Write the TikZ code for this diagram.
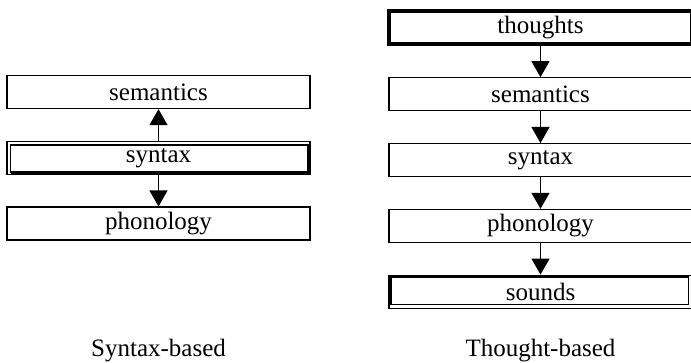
\documentclass[tikz,border=0pt]{standalone}
\usepackage{fontspec}
\setmainfont{Liberation Serif}
\usetikzlibrary{positioning,arrows.meta}

\tikzset{
  box/.style={draw, line width=1.3pt, minimum width=303pt, minimum height=33pt,
    inner sep=0pt, font=\fontsize{25}{30}\selectfont},
  heavybox/.style={box, line width=3.4pt},
  link/.style={line width=1.3pt, -{Triangle[width=18pt,length=16pt]}},
  caption/.style={anchor=base, font=\fontsize{25}{30}\selectfont},
}

\begin{document}
\begin{tikzpicture}[x=1pt, y=1pt, node distance = 31.5pt]
  \useasboundingbox (0,0) rectangle (691,-363);

  % left column
  \node (lsem) [box] at (158.5,-92) {semantics};
  \node (lsyn) [box, below = of lsem] {syntax};
  \node (lpho) [box, below = of lsyn] {phonology};

  % thin-thick frame round syntax
  \draw[line width=3.6pt] ([shift={(4.3pt,1.8pt)}]lsyn.south west) -| ([shift={(-1.8pt,-4.3pt)}]lsyn.north east);
  \draw[line width=1.3pt] ([shift={(4.3pt,1.8pt)}]lsyn.south west) |- ([shift={(-1.8pt,-4.3pt)}]lsyn.north east);

  \draw[link] (lsyn) -- (lsem);
  \draw[link] (lsyn) -- (lpho);

  % right column
  \node (rtho) [heavybox] at (540.5,-27.5) {thoughts};
  \node (rsem) [box, below = of rtho] {semantics};
  \node (rsyn) [box, below = of rsem] {syntax};
  \node (rpho) [box, below = of rsyn] {phonology};
  \node (rsnd) [box, below = of rpho] {sounds};

  % thick-thin frame round sounds
  \draw[line width=3.6pt] ([shift={(1.8pt,4.3pt)}]rsnd.south west) |- ([shift={(-4.3pt,-1.8pt)}]rsnd.north east);
  \draw[line width=1.3pt] ([shift={(1.8pt,4.3pt)}]rsnd.south west) -| ([shift={(-4.3pt,-1.8pt)}]rsnd.north east);

  \draw[link] (rtho) -- (rsem);
  \draw[link] (rsem) -- (rsyn);
  \draw[link] (rsyn) -- (rpho);
  \draw[link] (rpho) -- (rsnd);

  \node (lcap) [caption] at (158.5,-356) {Syntax-based};
  \node (rcap) [caption] at (540.5,-356) {Thought-based};
\end{tikzpicture}
\end{document}
